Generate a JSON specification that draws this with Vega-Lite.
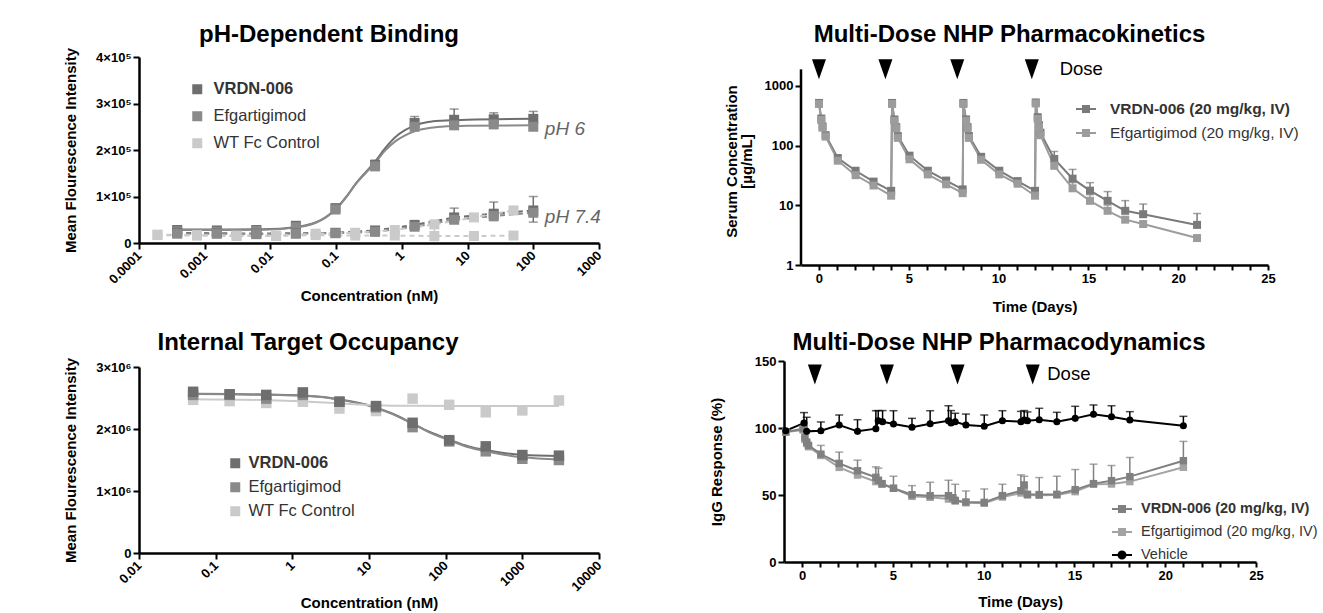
{
"$schema":"https://vega.github.io/schema/vega-lite/v6.json",
"padding":{"left":63,"top":23,"right":5,"bottom":2},
"background":"white",
"config":{
 "font":"Liberation Sans",
 "view":{"stroke":null},
 "axis":{"grid":false,"domainColor":"#000","domainWidth":2.5,"tickColor":"#000","tickWidth":2,"tickSize":6,"labelColor":"#000","labelFont":"Liberation Sans","labelFontWeight":"bold","labelFontSize":13,"labelPadding":2,"titleColor":"#000","titleFont":"Liberation Sans","titleFontWeight":"bold","titleFontSize":15,"labelFlush":false,"labelOverlap":false},
 "title":{"font":"Liberation Sans","fontSize":24,"fontWeight":"bold","color":"#000","anchor":"middle"},
 "legend":{"orient":"none","padding":0,"labelFont":"Liberation Sans","labelColor":"#333","symbolStrokeWidth":0,"labelLimit":400}
},
"resolve":{"scale":{"color":"independent"},"legend":{"color":"independent"}},
"columns":2,
"align":"none",
"spacing":{"row":17,"column":105},
"concat":[
  {"width":460,"height":186,
   "title":{"text":"pH-Dependent Binding","dx":-40,"offset":0},
   "layer":[
    {"data":{"name":"b1c"},"mark":{"type":"line","strokeWidth":2,"interpolate":"monotone"},
     "encoding":{
      "x":{"field":"c","type":"quantitative","scale":{"type":"log","domain":[0.0001,1000]},
           "axis":{"title":"Concentration (nM)","values":[0.0001,0.001,0.01,0.1,1,10,100,1000],"format":"~g","labelAngle":-45,"labelAlign":"right","labelBaseline":"middle","labelPadding":4,"titlePadding":2,"labelOverlap":false,"tickCount":20}},
      "y":{"field":"v","type":"quantitative","scale":{"domain":[0,400000]},
           "axis":{"title":"Mean Flourescence Intensity","values":[0,100000,200000,300000,400000],"labelExpr":"datum.value == 0 ? '0' : (datum.value/100000) + '×10⁵'","titlePadding":17,"labelOverlap":false,"tickCount":20}},
      "color":{"field":"s","type":"nominal","scale":{"domain":["VRDN-006","Efgartigimod","WT Fc Control"],"range":["#6e6e6e","#8a8a8a","#cacaca"]},
        "legend":{"title":null,"legendX":50,"legendY":24,"labelFontSize":16.5,"symbolSize":100,"rowPadding":10,"labelOffset":8,"symbolType":"square",
          "encode":{"labels":{"update":{"fontWeight":{"signal":"indexof(datum.value,'VRDN') >= 0 ? 'bold' : 'normal'"}}},
                    "symbols":{"update":{"shape":{"value":"square"},"fill":{"signal":"datum.value == 'VRDN-006' ? '#6e6e6e' : datum.value == 'Efgartigimod' ? '#8a8a8a' : '#cacaca'"},"stroke":{"value":"transparent"},"opacity":{"value":1},"size":{"value":100}}}}}}}},
    {"data":{"name":"b1"},"transform":[{"filter":"datum.ph == '7.4' || datum.s == 'WT Fc Control'"}],
     "mark":{"type":"line","strokeWidth":2,"strokeDash":[5,4]},
     "encoding":{"x":{"field":"c","type":"quantitative"},"y":{"field":"v","type":"quantitative"},"detail":{"field":"ph"},"color":{"field":"s","type":"nominal"}}},
    {"data":{"name":"b1"},"transform":[{"filter":"isValid(datum.hi)"}],
     "mark":{"type":"rule","strokeWidth":1.5},
     "encoding":{"x":{"field":"c","type":"quantitative"},"y":{"field":"lo","type":"quantitative"},"y2":{"field":"hi"},"color":{"field":"s","type":"nominal"}}},
    {"data":{"name":"b1"},"transform":[{"filter":"isValid(datum.hi)"}],
     "mark":{"type":"tick","orient":"horizontal","size":9,"thickness":1.5},
     "encoding":{"x":{"field":"c","type":"quantitative"},"y":{"field":"hi","type":"quantitative"},"color":{"field":"s","type":"nominal"}}},
    {"data":{"name":"b1"},"transform":[{"filter":"isValid(datum.hi)"}],
     "mark":{"type":"tick","orient":"horizontal","size":9,"thickness":1.5},
     "encoding":{"x":{"field":"c","type":"quantitative"},"y":{"field":"lo","type":"quantitative"},"color":{"field":"s","type":"nominal"}}},
    {"data":{"name":"b1"},"mark":{"type":"point","shape":"square","filled":true,"size":100,"opacity":1},
     "encoding":{"x":{"field":"c","type":"quantitative"},"y":{"field":"v","type":"quantitative"},"color":{"field":"s","type":"nominal"}}},
    {"data":{"name":"b1t"},"mark":{"type":"text","align":"left","baseline":"middle","fontStyle":"italic","fontSize":19,"color":"#666"},
     "encoding":{"x":{"field":"c","type":"quantitative"},"y":{"field":"v","type":"quantitative"},"text":{"field":"t"}}}
   ]},
  {"width":467,"height":208,
   "title":{"text":"Multi-Dose NHP Pharmacokinetics","dx":-25,"offset":10},
   "layer":[
    {"data":{"name":"ax3"},"mark":{"type":"rule","strokeWidth":2.5,"color":"#000"},
     "encoding":{
      "x":{"field":"d","type":"quantitative","scale":{"domain":[-1,25],"nice":false,"zero":false},
           "axis":{"title":"Time (Days)","values":[0,1,2,3,4,5,6,7,8,9,10,11,12,13,14,15,16,17,18,19,20,21,22,23,24,25],"format":"d","labelExpr":"datum.value % 5 == 0 ? datum.label : ''","tickSize":5,"titlePadding":14,"labelOverlap":false,"tickCount":100}},
      "y":{"field":"v","type":"quantitative","scale":{"type":"log","domain":[1,3062],"nice":false},
           "axis":{"title":["","Serum Concentration","[µg/mL]"],"titleLineHeight":15,"values":[1,10,100,1000],"format":"~g","titlePadding":10,"labelOverlap":false,"tickCount":20,"domain":false}},
      "y2":{"field":"v2"}}},
    {"data":{"name":"pk"},"mark":{"type":"line","strokeWidth":2},
     "encoding":{
      "x":{"field":"d","type":"quantitative"},
      "y":{"field":"v","type":"quantitative"},
      "color":{"field":"s","type":"nominal","scale":{"domain":["VRDN-006 (20 mg/kg, IV)","Efgartigimod (20 mg/kg, IV)"],"range":["#7a7a7a","#9c9c9c"]},
        "legend":{"title":null,"legendX":274,"legendY":41,"labelFontSize":15.5,"symbolSize":400,"rowPadding":4,"labelOffset":13,
          "encode":{"labels":{"update":{"fontWeight":{"signal":"indexof(datum.value,'VRDN') >= 0 ? 'bold' : 'normal'"}}},
                    "symbols":{"update":{"shape":{"value":"M-1,0L1,0M-0.3,-0.3L0.3,-0.3L0.3,0.3L-0.3,0.3Z"},"size":{"value":400},"strokeWidth":{"value":2},"opacity":{"value":1},
                      "fill":{"signal":"indexof(datum.value,'VRDN') >= 0 ? '#7a7a7a' : '#9c9c9c'"},
                      "stroke":{"signal":"indexof(datum.value,'VRDN') >= 0 ? '#7a7a7a' : '#9c9c9c'"}}}}}}}},
    {"data":{"name":"pk"},"transform":[{"filter":"isValid(datum.hi)"}],
     "mark":{"type":"rule","strokeWidth":1.5},
     "encoding":{"x":{"field":"d","type":"quantitative"},"y":{"field":"v","type":"quantitative"},"y2":{"field":"hi"},"color":{"field":"s","type":"nominal"}}},
    {"data":{"name":"pk"},"transform":[{"filter":"isValid(datum.hi)"}],
     "mark":{"type":"tick","orient":"horizontal","size":8,"thickness":1.5},
     "encoding":{"x":{"field":"d","type":"quantitative"},"y":{"field":"hi","type":"quantitative"},"color":{"field":"s","type":"nominal"}}},
    {"data":{"name":"pk"},"mark":{"type":"point","shape":"square","filled":true,"size":64,"opacity":1},
     "encoding":{"x":{"field":"d","type":"quantitative"},"y":{"field":"v","type":"quantitative"},"color":{"field":"s","type":"nominal"}}},
    {"data":{"name":"d3"},"mark":{"type":"point","shape":"M-0.7,-1L0.7,-1L0,1Z","filled":true,"size":400,"color":"#000","opacity":1},
     "encoding":{"x":{"field":"d","type":"quantitative"},"y":{"field":"v","type":"quantitative"}}},
    {"data":{"name":"t3"},"mark":{"type":"text","align":"left","baseline":"middle","fontSize":18.5,"color":"#000"},
     "encoding":{"x":{"field":"d","type":"quantitative"},"y":{"field":"v","type":"quantitative"},"text":{"field":"t"}}}
   ]},
  {"width":460,"height":186,
   "title":{"text":"Internal Target Occupancy","dx":-61,"offset":2},
   "layer":[
    {"data":{"name":"o2c"},"mark":{"type":"line","strokeWidth":2,"interpolate":"monotone"},
     "encoding":{
      "x":{"field":"c","type":"quantitative","scale":{"type":"log","domain":[0.01,10000]},
           "axis":{"title":"Concentration (nM)","values":[0.01,0.1,1,10,100,1000,10000],"format":"~g","labelAngle":-45,"labelAlign":"right","labelBaseline":"middle","labelPadding":4,"titlePadding":2,"labelOverlap":false,"tickCount":20}},
      "y":{"field":"v","type":"quantitative","scale":{"domain":[0,3000000]},
           "axis":{"title":"Mean Flourescence Intensity","values":[0,1000000,2000000,3000000],"labelExpr":"datum.value == 0 ? '0' : (datum.value/1000000) + '×10⁶'","titlePadding":17,"labelOverlap":false,"tickCount":20}},
      "color":{"field":"s","type":"nominal","scale":{"domain":["VRDN-006","Efgartigimod","WT Fc  Control"],"range":["#6e6e6e","#8a8a8a","#cacaca"]},
        "legend":{"title":null,"legendX":88,"legendY":88,"labelFontSize":16.5,"symbolSize":100,"rowPadding":7,"labelOffset":5,"symbolType":"square",
          "encode":{"labels":{"update":{"fontWeight":{"signal":"indexof(datum.value,'VRDN') >= 0 ? 'bold' : 'normal'"}}},
                    "symbols":{"update":{"shape":{"value":"square"},"fill":{"signal":"datum.value == 'VRDN-006' ? '#6e6e6e' : datum.value == 'Efgartigimod' ? '#8a8a8a' : '#cacaca'"},"stroke":{"value":"transparent"},"opacity":{"value":1},"size":{"value":100}}}}}}}},
    {"data":{"name":"o2"},"mark":{"type":"point","shape":"square","filled":true,"size":110,"opacity":1},
     "encoding":{"x":{"field":"c","type":"quantitative"},"y":{"field":"v","type":"quantitative"},"color":{"field":"s","type":"nominal"}}}
   ]},
  {"width":472,"height":201,
   "title":{"text":"Multi-Dose NHP Pharmacodynamics","dx":-21,"offset":0},
   "layer":[
    {"data":{"name":"pd"},"mark":{"type":"line","strokeWidth":2},
     "encoding":{
      "x":{"field":"d","type":"quantitative","scale":{"domain":[-1,25],"nice":false,"zero":false},
           "axis":{"title":"Time (Days)","values":[0,1,2,3,4,5,6,7,8,9,10,11,12,13,14,15,16,17,18,19,20,21,22,23,24,25],"format":"d","labelExpr":"datum.value % 5 == 0 ? datum.label : ''","tickSize":5,"titlePadding":12,"labelOverlap":false,"tickCount":100}},
      "y":{"field":"v","type":"quantitative","scale":{"domain":[0,150],"nice":false},
           "axis":{"title":"IgG  Response (%)","values":[0,50,100,150],"titlePadding":30,"labelOverlap":false,"tickCount":20}},
      "color":{"field":"s","type":"nominal","scale":{"domain":["VRDN-006 (20 mg/kg, IV)","Efgartigimod (20 mg/kg, IV)","Vehicle"],"range":["#808080","#a3a3a3","#000000"]},
        "legend":{"title":null,"legendX":327,"legendY":137,"labelFontSize":14.5,"symbolSize":400,"rowPadding":5,"labelOffset":8,
          "encode":{"labels":{"update":{"fontWeight":{"signal":"indexof(datum.value,'VRDN') >= 0 ? 'bold' : 'normal'"}}},
                    "symbols":{"update":{"shape":{"signal":"datum.value == 'Vehicle' ? 'M-1,0L1,0M0.35,0A0.35,0.35 0 1,1 -0.35,0A0.35,0.35 0 1,1 0.35,0Z' : 'M-1,0L1,0M-0.3,-0.3L0.3,-0.3L0.3,0.3L-0.3,0.3Z'"},"size":{"value":400},"strokeWidth":{"value":2},"opacity":{"value":1},
                      "fill":{"signal":"datum.value == 'Vehicle' ? '#000' : indexof(datum.value,'VRDN') >= 0 ? '#808080' : '#a3a3a3'"},
                      "stroke":{"signal":"datum.value == 'Vehicle' ? '#000' : indexof(datum.value,'VRDN') >= 0 ? '#808080' : '#a3a3a3'"}}}}}}}},
    {"data":{"name":"pd"},"transform":[{"filter":"isValid(datum.hi)"}],
     "mark":{"type":"rule","strokeWidth":1.5},
     "encoding":{"x":{"field":"d","type":"quantitative"},"y":{"field":"v","type":"quantitative"},"y2":{"field":"hi"},"color":{"field":"s","type":"nominal"}}},
    {"data":{"name":"pd"},"transform":[{"filter":"isValid(datum.hi)"}],
     "mark":{"type":"tick","orient":"horizontal","size":8,"thickness":1.5},
     "encoding":{"x":{"field":"d","type":"quantitative"},"y":{"field":"hi","type":"quantitative"},"color":{"field":"s","type":"nominal"}}},
    {"data":{"name":"pd"},"transform":[{"filter":"datum.s != 'Vehicle'"}],"mark":{"type":"point","shape":"square","filled":true,"size":55,"opacity":1},
     "encoding":{"x":{"field":"d","type":"quantitative"},"y":{"field":"v","type":"quantitative"},"color":{"field":"s","type":"nominal"}}},
    {"data":{"name":"pd"},"transform":[{"filter":"datum.s == 'Vehicle'"}],"mark":{"type":"point","shape":"circle","filled":true,"size":50,"opacity":1},
     "encoding":{"x":{"field":"d","type":"quantitative"},"y":{"field":"v","type":"quantitative"},"color":{"field":"s","type":"nominal"}}},
    {"data":{"name":"d4"},"mark":{"type":"point","shape":"M-0.7,-1L0.7,-1L0,1Z","filled":true,"size":400,"color":"#000","opacity":1},
     "encoding":{"x":{"field":"d","type":"quantitative"},"y":{"field":"v","type":"quantitative"}}},
    {"data":{"name":"t4"},"mark":{"type":"text","align":"left","baseline":"middle","fontSize":18.5,"color":"#000"},
     "encoding":{"x":{"field":"d","type":"quantitative"},"y":{"field":"v","type":"quantitative"},"text":{"field":"t"}}}
   ]}
],
"datasets":{
 "ax3":[{"d":-1,"v":1,"v2":1900}],
 "b1":[
  {"s":"VRDN-006","ph":"6","c":0.000381,"v":28000},
  {"s":"VRDN-006","ph":"6","c":0.00153,"v":27000},
  {"s":"VRDN-006","ph":"6","c":0.0061,"v":28000},
  {"s":"VRDN-006","ph":"6","c":0.0244,"v":37000},
  {"s":"VRDN-006","ph":"6","c":0.0977,"v":75000},
  {"s":"VRDN-006","ph":"6","c":0.391,"v":168000,"lo":156000,"hi":178000},
  {"s":"VRDN-006","ph":"6","c":1.5625,"v":258000,"lo":246000,"hi":272000},
  {"s":"VRDN-006","ph":"6","c":6.25,"v":265000,"lo":250000,"hi":288000},
  {"s":"VRDN-006","ph":"6","c":25,"v":266000,"lo":255000,"hi":280000},
  {"s":"VRDN-006","ph":"6","c":100,"v":267000,"lo":245000,"hi":283000},
  {"s":"Efgartigimod","ph":"6","c":0.000381,"v":25000},
  {"s":"Efgartigimod","ph":"6","c":0.00153,"v":24000},
  {"s":"Efgartigimod","ph":"6","c":0.0061,"v":26000},
  {"s":"Efgartigimod","ph":"6","c":0.0244,"v":34000},
  {"s":"Efgartigimod","ph":"6","c":0.0977,"v":72000},
  {"s":"Efgartigimod","ph":"6","c":0.391,"v":165000},
  {"s":"Efgartigimod","ph":"6","c":1.5625,"v":250000},
  {"s":"Efgartigimod","ph":"6","c":6.25,"v":253000},
  {"s":"Efgartigimod","ph":"6","c":25,"v":255000},
  {"s":"Efgartigimod","ph":"6","c":100,"v":250000},
  {"s":"VRDN-006","ph":"7.4","c":0.000381,"v":22000},
  {"s":"VRDN-006","ph":"7.4","c":0.00153,"v":21000},
  {"s":"VRDN-006","ph":"7.4","c":0.0061,"v":20000},
  {"s":"VRDN-006","ph":"7.4","c":0.0244,"v":21000},
  {"s":"VRDN-006","ph":"7.4","c":0.0977,"v":22000},
  {"s":"VRDN-006","ph":"7.4","c":0.391,"v":27000},
  {"s":"VRDN-006","ph":"7.4","c":1.5625,"v":39000},
  {"s":"VRDN-006","ph":"7.4","c":6.25,"v":55000,"lo":45000,"hi":75000},
  {"s":"VRDN-006","ph":"7.4","c":25,"v":63000,"lo":48000,"hi":88000},
  {"s":"VRDN-006","ph":"7.4","c":100,"v":70000,"lo":45000,"hi":100000},
  {"s":"Efgartigimod","ph":"7.4","c":0.000381,"v":20000},
  {"s":"Efgartigimod","ph":"7.4","c":0.00153,"v":20000},
  {"s":"Efgartigimod","ph":"7.4","c":0.0061,"v":19000},
  {"s":"Efgartigimod","ph":"7.4","c":0.0244,"v":20000},
  {"s":"Efgartigimod","ph":"7.4","c":0.0977,"v":21000},
  {"s":"Efgartigimod","ph":"7.4","c":0.391,"v":24000},
  {"s":"Efgartigimod","ph":"7.4","c":1.5625,"v":35000},
  {"s":"Efgartigimod","ph":"7.4","c":6.25,"v":50000},
  {"s":"Efgartigimod","ph":"7.4","c":25,"v":58000},
  {"s":"Efgartigimod","ph":"7.4","c":100,"v":65000},
  {"s":"WT Fc Control","ph":"6","c":0.000191,"v":18000},
  {"s":"WT Fc Control","ph":"6","c":0.000763,"v":17000},
  {"s":"WT Fc Control","ph":"6","c":0.00305,"v":16000},
  {"s":"WT Fc Control","ph":"6","c":0.0122,"v":16000},
  {"s":"WT Fc Control","ph":"6","c":0.0488,"v":20000},
  {"s":"WT Fc Control","ph":"6","c":0.195,"v":22000},
  {"s":"WT Fc Control","ph":"6","c":0.781,"v":28000},
  {"s":"WT Fc Control","ph":"6","c":3.125,"v":40000},
  {"s":"WT Fc Control","ph":"6","c":12.5,"v":55000},
  {"s":"WT Fc Control","ph":"6","c":50,"v":70000},
  {"s":"WT Fc Control","ph":"7.4","c":0.000191,"v":17000},
  {"s":"WT Fc Control","ph":"7.4","c":0.000763,"v":16000},
  {"s":"WT Fc Control","ph":"7.4","c":0.00305,"v":15000},
  {"s":"WT Fc Control","ph":"7.4","c":0.0122,"v":15000},
  {"s":"WT Fc Control","ph":"7.4","c":0.0488,"v":17000},
  {"s":"WT Fc Control","ph":"7.4","c":0.195,"v":16000},
  {"s":"WT Fc Control","ph":"7.4","c":0.781,"v":16000},
  {"s":"WT Fc Control","ph":"7.4","c":3.125,"v":15000,"lo":5000,"hi":38000},
  {"s":"WT Fc Control","ph":"7.4","c":12.5,"v":15000},
  {"s":"WT Fc Control","ph":"7.4","c":50,"v":16000}
 ],
 "b1c":[
  {"s":"VRDN-006","c":0.000381,"v":29000},{"s":"VRDN-006","c":0.003,"v":29000},{"s":"VRDN-006","c":0.01,"v":30000},{"s":"VRDN-006","c":0.02,"v":33000},{"s":"VRDN-006","c":0.035,"v":38000},{"s":"VRDN-006","c":0.05,"v":45000},{"s":"VRDN-006","c":0.07,"v":56000},{"s":"VRDN-006","c":0.1,"v":74000},{"s":"VRDN-006","c":0.14,"v":98000},{"s":"VRDN-006","c":0.2,"v":128000},{"s":"VRDN-006","c":0.28,"v":152000},{"s":"VRDN-006","c":0.39,"v":175000},{"s":"VRDN-006","c":0.55,"v":203000},{"s":"VRDN-006","c":0.8,"v":228000},{"s":"VRDN-006","c":1.1,"v":242000},{"s":"VRDN-006","c":1.6,"v":253000},{"s":"VRDN-006","c":2.5,"v":260000},{"s":"VRDN-006","c":4,"v":263000},{"s":"VRDN-006","c":10,"v":265000},{"s":"VRDN-006","c":100,"v":267000},
  {"s":"Efgartigimod","c":0.000381,"v":28000},{"s":"Efgartigimod","c":0.003,"v":28000},{"s":"Efgartigimod","c":0.01,"v":29000},{"s":"Efgartigimod","c":0.02,"v":32000},{"s":"Efgartigimod","c":0.035,"v":37000},{"s":"Efgartigimod","c":0.05,"v":44000},{"s":"Efgartigimod","c":0.07,"v":55000},{"s":"Efgartigimod","c":0.1,"v":73000},{"s":"Efgartigimod","c":0.14,"v":97000},{"s":"Efgartigimod","c":0.2,"v":127000},{"s":"Efgartigimod","c":0.28,"v":150000},{"s":"Efgartigimod","c":0.39,"v":172000},{"s":"Efgartigimod","c":0.55,"v":198000},{"s":"Efgartigimod","c":0.8,"v":219000},{"s":"Efgartigimod","c":1.1,"v":231000},{"s":"Efgartigimod","c":1.6,"v":241000},{"s":"Efgartigimod","c":2.5,"v":247000},{"s":"Efgartigimod","c":4,"v":250000},{"s":"Efgartigimod","c":10,"v":252000},{"s":"Efgartigimod","c":100,"v":253000}
 ],
 "b1t":[{"c":150,"v":245000,"t":"pH 6"},{"c":150,"v":56000,"t":"pH 7.4"}],
 "o2":[
  {"s":"WT Fc  Control","c":0.0508,"v":2470000},{"s":"WT Fc  Control","c":0.152,"v":2450000},{"s":"WT Fc  Control","c":0.457,"v":2420000},{"s":"WT Fc  Control","c":1.372,"v":2440000},{"s":"WT Fc  Control","c":4.115,"v":2330000},{"s":"WT Fc  Control","c":12.35,"v":2290000},{"s":"WT Fc  Control","c":37.04,"v":2490000},{"s":"WT Fc  Control","c":111.1,"v":2390000},{"s":"WT Fc  Control","c":333.3,"v":2270000},{"s":"WT Fc  Control","c":1000,"v":2300000},{"s":"WT Fc  Control","c":3000,"v":2460000},
  {"s":"Efgartigimod","c":0.0508,"v":2550000},{"s":"Efgartigimod","c":0.152,"v":2550000},{"s":"Efgartigimod","c":0.457,"v":2490000},{"s":"Efgartigimod","c":1.372,"v":2550000},{"s":"Efgartigimod","c":4.115,"v":2440000},{"s":"Efgartigimod","c":12.35,"v":2350000},{"s":"Efgartigimod","c":37.04,"v":2030000},{"s":"Efgartigimod","c":111.1,"v":1800000},{"s":"Efgartigimod","c":333.3,"v":1640000},{"s":"Efgartigimod","c":1000,"v":1520000},{"s":"Efgartigimod","c":3000,"v":1500000},
  {"s":"VRDN-006","c":0.0508,"v":2600000},{"s":"VRDN-006","c":0.152,"v":2560000},{"s":"VRDN-006","c":0.457,"v":2550000},{"s":"VRDN-006","c":1.372,"v":2590000},{"s":"VRDN-006","c":4.115,"v":2440000},{"s":"VRDN-006","c":12.35,"v":2370000},{"s":"VRDN-006","c":37.04,"v":2100000},{"s":"VRDN-006","c":111.1,"v":1820000},{"s":"VRDN-006","c":333.3,"v":1720000},{"s":"VRDN-006","c":1000,"v":1580000},{"s":"VRDN-006","c":3000,"v":1570000}
 ],
 "o2c":[
  {"s":"VRDN-006","c":0.0508,"v":2570000},{"s":"VRDN-006","c":0.15,"v":2565000},{"s":"VRDN-006","c":0.5,"v":2555000},{"s":"VRDN-006","c":1.4,"v":2540000},{"s":"VRDN-006","c":3,"v":2505000},{"s":"VRDN-006","c":5,"v":2460000},{"s":"VRDN-006","c":10,"v":2380000},{"s":"VRDN-006","c":20,"v":2250000},{"s":"VRDN-006","c":37,"v":2090000},{"s":"VRDN-006","c":60,"v":1960000},{"s":"VRDN-006","c":111,"v":1830000},{"s":"VRDN-006","c":200,"v":1720000},{"s":"VRDN-006","c":333,"v":1660000},{"s":"VRDN-006","c":600,"v":1610000},{"s":"VRDN-006","c":1000,"v":1585000},{"s":"VRDN-006","c":3000,"v":1565000},
  {"s":"Efgartigimod","c":0.0508,"v":2565000},{"s":"Efgartigimod","c":0.15,"v":2560000},{"s":"Efgartigimod","c":0.5,"v":2550000},{"s":"Efgartigimod","c":1.4,"v":2535000},{"s":"Efgartigimod","c":3,"v":2500000},{"s":"Efgartigimod","c":5,"v":2455000},{"s":"Efgartigimod","c":10,"v":2375000},{"s":"Efgartigimod","c":20,"v":2245000},{"s":"Efgartigimod","c":37,"v":2085000},{"s":"Efgartigimod","c":60,"v":1950000},{"s":"Efgartigimod","c":111,"v":1820000},{"s":"Efgartigimod","c":200,"v":1705000},{"s":"Efgartigimod","c":333,"v":1640000},{"s":"Efgartigimod","c":600,"v":1580000},{"s":"Efgartigimod","c":1000,"v":1545000},{"s":"Efgartigimod","c":3000,"v":1510000},
  {"s":"WT Fc  Control","c":0.0508,"v":2480000},{"s":"WT Fc  Control","c":0.5,"v":2465000},{"s":"WT Fc  Control","c":1.4,"v":2445000},{"s":"WT Fc  Control","c":4,"v":2415000},{"s":"WT Fc  Control","c":12,"v":2385000},{"s":"WT Fc  Control","c":40,"v":2375000},{"s":"WT Fc  Control","c":3000,"v":2370000}
 ],
 "pk":[
  {"s":"VRDN-006 (20 mg/kg, IV)","d":0,"v":520},{"s":"VRDN-006 (20 mg/kg, IV)","d":0.13,"v":285},{"s":"VRDN-006 (20 mg/kg, IV)","d":0.2,"v":210},{"s":"VRDN-006 (20 mg/kg, IV)","d":0.37,"v":150},{"s":"VRDN-006 (20 mg/kg, IV)","d":1.05,"v":62},{"s":"VRDN-006 (20 mg/kg, IV)","d":2.04,"v":38},{"s":"VRDN-006 (20 mg/kg, IV)","d":3.04,"v":25},{"s":"VRDN-006 (20 mg/kg, IV)","d":4.02,"v":17.5},
  {"s":"VRDN-006 (20 mg/kg, IV)","d":4.07,"v":520},{"s":"VRDN-006 (20 mg/kg, IV)","d":4.2,"v":275},{"s":"VRDN-006 (20 mg/kg, IV)","d":4.3,"v":205},{"s":"VRDN-006 (20 mg/kg, IV)","d":4.39,"v":145},{"s":"VRDN-006 (20 mg/kg, IV)","d":5.04,"v":68},{"s":"VRDN-006 (20 mg/kg, IV)","d":6.06,"v":38},{"s":"VRDN-006 (20 mg/kg, IV)","d":7.08,"v":26},{"s":"VRDN-006 (20 mg/kg, IV)","d":8.0,"v":18.5},
  {"s":"VRDN-006 (20 mg/kg, IV)","d":8.04,"v":520},{"s":"VRDN-006 (20 mg/kg, IV)","d":8.19,"v":275},{"s":"VRDN-006 (20 mg/kg, IV)","d":8.27,"v":205},{"s":"VRDN-006 (20 mg/kg, IV)","d":8.35,"v":145},{"s":"VRDN-006 (20 mg/kg, IV)","d":9.03,"v":65},{"s":"VRDN-006 (20 mg/kg, IV)","d":10.04,"v":38},{"s":"VRDN-006 (20 mg/kg, IV)","d":11.06,"v":25.5},{"s":"VRDN-006 (20 mg/kg, IV)","d":12.03,"v":17.5},
  {"s":"VRDN-006 (20 mg/kg, IV)","d":12.07,"v":530},{"s":"VRDN-006 (20 mg/kg, IV)","d":12.18,"v":300},{"s":"VRDN-006 (20 mg/kg, IV)","d":12.25,"v":220},{"s":"VRDN-006 (20 mg/kg, IV)","d":12.33,"v":165},{"s":"VRDN-006 (20 mg/kg, IV)","d":13.1,"v":60,"hi":80},{"s":"VRDN-006 (20 mg/kg, IV)","d":14.12,"v":28,"hi":40},{"s":"VRDN-006 (20 mg/kg, IV)","d":15.09,"v":17.6,"hi":24},{"s":"VRDN-006 (20 mg/kg, IV)","d":16.07,"v":11.9,"hi":17},{"s":"VRDN-006 (20 mg/kg, IV)","d":17.05,"v":8.1,"hi":12},{"s":"VRDN-006 (20 mg/kg, IV)","d":18.05,"v":7.1,"hi":10.5},{"s":"VRDN-006 (20 mg/kg, IV)","d":21.05,"v":4.7,"hi":7.3},
  {"s":"Efgartigimod (20 mg/kg, IV)","d":0,"v":500},{"s":"Efgartigimod (20 mg/kg, IV)","d":0.13,"v":270},{"s":"Efgartigimod (20 mg/kg, IV)","d":0.2,"v":200},{"s":"Efgartigimod (20 mg/kg, IV)","d":0.37,"v":142},{"s":"Efgartigimod (20 mg/kg, IV)","d":1.05,"v":56},{"s":"Efgartigimod (20 mg/kg, IV)","d":2.04,"v":32},{"s":"Efgartigimod (20 mg/kg, IV)","d":3.04,"v":21.5},{"s":"Efgartigimod (20 mg/kg, IV)","d":4.02,"v":14.5},
  {"s":"Efgartigimod (20 mg/kg, IV)","d":4.07,"v":500},{"s":"Efgartigimod (20 mg/kg, IV)","d":4.2,"v":260},{"s":"Efgartigimod (20 mg/kg, IV)","d":4.3,"v":195},{"s":"Efgartigimod (20 mg/kg, IV)","d":4.39,"v":135},{"s":"Efgartigimod (20 mg/kg, IV)","d":5.04,"v":59},{"s":"Efgartigimod (20 mg/kg, IV)","d":6.06,"v":33},{"s":"Efgartigimod (20 mg/kg, IV)","d":7.08,"v":22.5},{"s":"Efgartigimod (20 mg/kg, IV)","d":8.0,"v":16},
  {"s":"Efgartigimod (20 mg/kg, IV)","d":8.04,"v":500},{"s":"Efgartigimod (20 mg/kg, IV)","d":8.19,"v":260},{"s":"Efgartigimod (20 mg/kg, IV)","d":8.27,"v":195},{"s":"Efgartigimod (20 mg/kg, IV)","d":8.35,"v":135},{"s":"Efgartigimod (20 mg/kg, IV)","d":9.03,"v":58},{"s":"Efgartigimod (20 mg/kg, IV)","d":10.04,"v":33},{"s":"Efgartigimod (20 mg/kg, IV)","d":11.06,"v":23},{"s":"Efgartigimod (20 mg/kg, IV)","d":12.03,"v":14.5},
  {"s":"Efgartigimod (20 mg/kg, IV)","d":12.07,"v":510},{"s":"Efgartigimod (20 mg/kg, IV)","d":12.18,"v":280},{"s":"Efgartigimod (20 mg/kg, IV)","d":12.25,"v":205},{"s":"Efgartigimod (20 mg/kg, IV)","d":12.33,"v":150},{"s":"Efgartigimod (20 mg/kg, IV)","d":13.1,"v":46,"hi":62},{"s":"Efgartigimod (20 mg/kg, IV)","d":14.12,"v":19.3,"hi":24},{"s":"Efgartigimod (20 mg/kg, IV)","d":15.09,"v":11.9,"hi":15},{"s":"Efgartigimod (20 mg/kg, IV)","d":16.07,"v":8.1,"hi":10},{"s":"Efgartigimod (20 mg/kg, IV)","d":17.05,"v":5.75},{"s":"Efgartigimod (20 mg/kg, IV)","d":18.05,"v":4.86},{"s":"Efgartigimod (20 mg/kg, IV)","d":21.05,"v":2.83}
 ],
 "d3":[{"d":0,"v":1900},{"d":3.7,"v":1900},{"d":7.7,"v":1900},{"d":11.85,"v":1900}],
 "t3":[{"d":13.4,"v":1900,"t":"Dose"}],
 "pd":[
  {"s":"Efgartigimod (20 mg/kg, IV)","d":-0.9,"v":97},{"s":"Efgartigimod (20 mg/kg, IV)","d":0.05,"v":98.5},{"s":"Efgartigimod (20 mg/kg, IV)","d":0.15,"v":91.5},{"s":"Efgartigimod (20 mg/kg, IV)","d":0.25,"v":88.5},{"s":"Efgartigimod (20 mg/kg, IV)","d":0.35,"v":86},{"s":"Efgartigimod (20 mg/kg, IV)","d":1.03,"v":79.5},{"s":"Efgartigimod (20 mg/kg, IV)","d":2.04,"v":70.6},{"s":"Efgartigimod (20 mg/kg, IV)","d":3.05,"v":64.9},{"s":"Efgartigimod (20 mg/kg, IV)","d":4.06,"v":60},{"s":"Efgartigimod (20 mg/kg, IV)","d":4.2,"v":60.5},{"s":"Efgartigimod (20 mg/kg, IV)","d":4.4,"v":58},{"s":"Efgartigimod (20 mg/kg, IV)","d":5.03,"v":55},{"s":"Efgartigimod (20 mg/kg, IV)","d":6.05,"v":49},{"s":"Efgartigimod (20 mg/kg, IV)","d":7.05,"v":48.3},{"s":"Efgartigimod (20 mg/kg, IV)","d":8.06,"v":47},{"s":"Efgartigimod (20 mg/kg, IV)","d":8.3,"v":47},{"s":"Efgartigimod (20 mg/kg, IV)","d":8.43,"v":45.5},{"s":"Efgartigimod (20 mg/kg, IV)","d":9.02,"v":44.2},{"s":"Efgartigimod (20 mg/kg, IV)","d":10.03,"v":43.8},{"s":"Efgartigimod (20 mg/kg, IV)","d":11.03,"v":48.5},{"s":"Efgartigimod (20 mg/kg, IV)","d":12.05,"v":51.5},{"s":"Efgartigimod (20 mg/kg, IV)","d":12.23,"v":55},{"s":"Efgartigimod (20 mg/kg, IV)","d":12.41,"v":50},{"s":"Efgartigimod (20 mg/kg, IV)","d":13.06,"v":49.8},{"s":"Efgartigimod (20 mg/kg, IV)","d":14.03,"v":50},{"s":"Efgartigimod (20 mg/kg, IV)","d":15.04,"v":52.5},{"s":"Efgartigimod (20 mg/kg, IV)","d":16.05,"v":58},{"s":"Efgartigimod (20 mg/kg, IV)","d":17.04,"v":58.2},{"s":"Efgartigimod (20 mg/kg, IV)","d":18.05,"v":60},{"s":"Efgartigimod (20 mg/kg, IV)","d":21,"v":70.7},
  {"s":"VRDN-006 (20 mg/kg, IV)","d":-0.9,"v":97},{"s":"VRDN-006 (20 mg/kg, IV)","d":0.05,"v":99.5},{"s":"VRDN-006 (20 mg/kg, IV)","d":0.15,"v":93},{"s":"VRDN-006 (20 mg/kg, IV)","d":0.25,"v":89.5},{"s":"VRDN-006 (20 mg/kg, IV)","d":0.35,"v":87},{"s":"VRDN-006 (20 mg/kg, IV)","d":1.03,"v":80.5,"hi":87},{"s":"VRDN-006 (20 mg/kg, IV)","d":2.04,"v":73.6,"hi":82},{"s":"VRDN-006 (20 mg/kg, IV)","d":3.05,"v":68.1,"hi":76},{"s":"VRDN-006 (20 mg/kg, IV)","d":4.06,"v":63.2,"hi":71},{"s":"VRDN-006 (20 mg/kg, IV)","d":4.2,"v":61,"hi":70},{"s":"VRDN-006 (20 mg/kg, IV)","d":4.4,"v":58.5},{"s":"VRDN-006 (20 mg/kg, IV)","d":5.03,"v":55,"hi":64},{"s":"VRDN-006 (20 mg/kg, IV)","d":6.05,"v":50.2,"hi":57},{"s":"VRDN-006 (20 mg/kg, IV)","d":7.05,"v":49.5,"hi":59.5},{"s":"VRDN-006 (20 mg/kg, IV)","d":8.06,"v":49.5,"hi":61},{"s":"VRDN-006 (20 mg/kg, IV)","d":8.3,"v":48},{"s":"VRDN-006 (20 mg/kg, IV)","d":8.43,"v":46,"hi":58},{"s":"VRDN-006 (20 mg/kg, IV)","d":9.02,"v":44.8,"hi":53},{"s":"VRDN-006 (20 mg/kg, IV)","d":10.03,"v":44.5,"hi":54.5},{"s":"VRDN-006 (20 mg/kg, IV)","d":11.03,"v":49.5,"hi":58},{"s":"VRDN-006 (20 mg/kg, IV)","d":12.05,"v":53.2,"hi":65},{"s":"VRDN-006 (20 mg/kg, IV)","d":12.23,"v":57.5,"hi":64},{"s":"VRDN-006 (20 mg/kg, IV)","d":12.41,"v":50.5},{"s":"VRDN-006 (20 mg/kg, IV)","d":13.06,"v":50.3,"hi":63},{"s":"VRDN-006 (20 mg/kg, IV)","d":14.03,"v":50.5,"hi":64},{"s":"VRDN-006 (20 mg/kg, IV)","d":15.04,"v":54,"hi":69},{"s":"VRDN-006 (20 mg/kg, IV)","d":16.05,"v":58.5,"hi":73},{"s":"VRDN-006 (20 mg/kg, IV)","d":17.04,"v":60.7,"hi":72},{"s":"VRDN-006 (20 mg/kg, IV)","d":18.05,"v":63.7,"hi":78},{"s":"VRDN-006 (20 mg/kg, IV)","d":21,"v":75.6,"hi":90},
  {"s":"Vehicle","d":-0.9,"v":98},{"s":"Vehicle","d":0.1,"v":103.7,"hi":111.5},{"s":"Vehicle","d":0.25,"v":97.5,"hi":108},{"s":"Vehicle","d":1.03,"v":98,"hi":104.5},{"s":"Vehicle","d":2.04,"v":102.2,"hi":109.7},{"s":"Vehicle","d":3.05,"v":97.5,"hi":106.2},{"s":"Vehicle","d":4.06,"v":99.5,"hi":112.9},{"s":"Vehicle","d":4.19,"v":105.4,"hi":113},{"s":"Vehicle","d":4.43,"v":104.7,"hi":113},{"s":"Vehicle","d":5.03,"v":103,"hi":112.9},{"s":"Vehicle","d":6.05,"v":100.5,"hi":107.2},{"s":"Vehicle","d":7.05,"v":103.2,"hi":112.9},{"s":"Vehicle","d":8.06,"v":105.4,"hi":116.6},{"s":"Vehicle","d":8.2,"v":103.7,"hi":113},{"s":"Vehicle","d":8.43,"v":104.7,"hi":111},{"s":"Vehicle","d":9.02,"v":102.2,"hi":110.4},{"s":"Vehicle","d":10.03,"v":101.3,"hi":109.7},{"s":"Vehicle","d":11.03,"v":105.4,"hi":112.9},{"s":"Vehicle","d":12.05,"v":104.7,"hi":112.4},{"s":"Vehicle","d":12.23,"v":106,"hi":113},{"s":"Vehicle","d":12.41,"v":105.4,"hi":112},{"s":"Vehicle","d":13.06,"v":106.2,"hi":114.7},{"s":"Vehicle","d":14.03,"v":104.7,"hi":111.7},{"s":"Vehicle","d":15.04,"v":107.2,"hi":116.2},{"s":"Vehicle","d":16.05,"v":110.2,"hi":117.2},{"s":"Vehicle","d":17.04,"v":108.4,"hi":116.6},{"s":"Vehicle","d":18.05,"v":106,"hi":112.2},{"s":"Vehicle","d":21,"v":101.7,"hi":108.7}
 ],
 "d4":[{"d":0.7,"v":140},{"d":4.67,"v":140},{"d":8.56,"v":140},{"d":12.7,"v":140}],
 "t4":[{"d":13.5,"v":140,"t":"Dose"}]
}
}
